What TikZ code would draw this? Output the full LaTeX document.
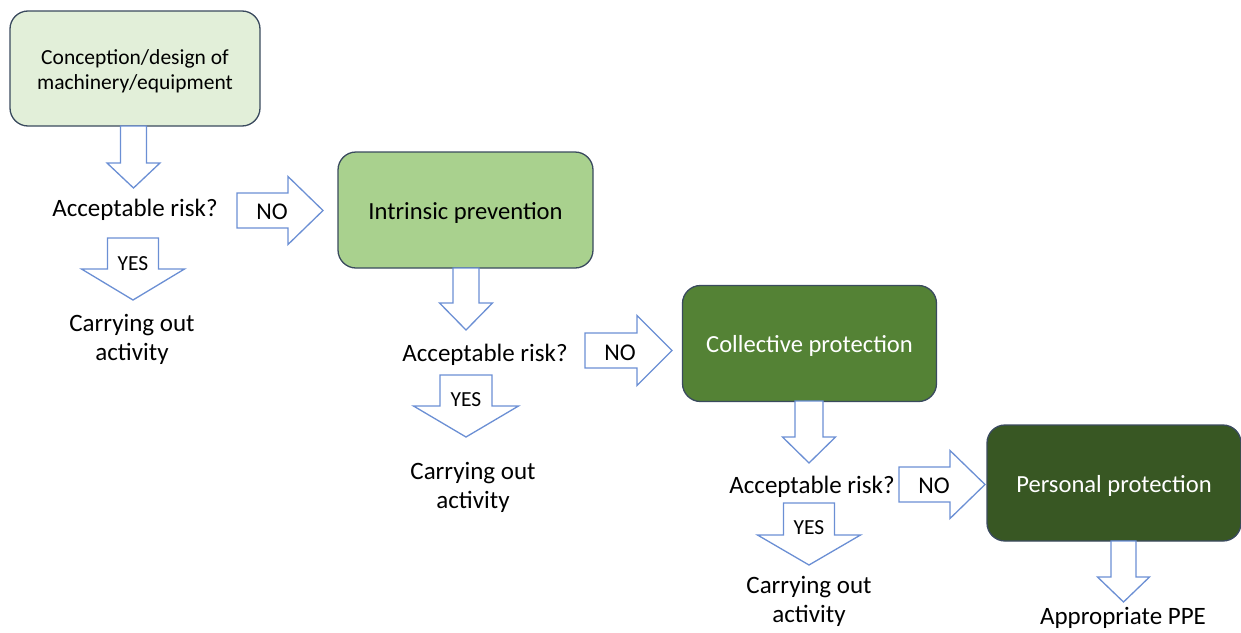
\documentclass[tikz,border=0pt]{standalone}
\usepackage{fontspec}
\setmainfont{Carlito}
\definecolor{boxA}{HTML}{E2EFD9}
\definecolor{boxB}{HTML}{A9D18E}
\definecolor{boxC}{HTML}{548235}
\definecolor{boxD}{HTML}{385723}
\definecolor{boxline}{HTML}{3A4A5E}
\definecolor{arrline}{HTML}{6B8FD4}
\newcommand{\darr}[6]{% center x, top y, head base y, tip y, shaft half, head half
  \draw[blockarr] ({#1-#5},#2) -- ({#1+#5},#2) -- ({#1+#5},#3) -- ({#1+#6},#3) -- (#1,#4) -- ({#1-#6},#3) -- ({#1-#5},#3) -- cycle;}
\newcommand{\rarr}[6]{% left x, center y, head base x, tip x, shaft half, head half
  \draw[blockarr] (#1,{#2-#5}) -- (#3,{#2-#5}) -- (#3,{#2-#6}) -- (#4,#2) -- (#3,{#2+#6}) -- (#3,{#2+#5}) -- (#1,{#2+#5}) -- cycle;}
\newcommand{\dn}[1]{\raisebox{-2.5pt}[\height][\depth]{#1}}
\begin{document}
\begin{tikzpicture}[x=1pt,y=-1pt,
  flowbox/.style={draw=boxline, line width=1.3pt, rounded corners=18pt, minimum width=250pt, minimum height=115pt, inner sep=0pt, align=center, font=\fontsize{24.6}{29}\selectfont},
  blockarr/.style={draw=arrline, line width=1.3pt, fill=white, line join=miter},
  lbl/.style={inner sep=0pt, align=center, yshift=-2.5pt, font=\fontsize{25}{29}\selectfont},
  yeslbl/.style={inner sep=0pt, yshift=-1pt, font=\fontsize{21.5}{25}\selectfont},
  nolbl/.style={inner sep=0pt, yshift=-1pt, font=\fontsize{24}{28}\selectfont}]
\useasboundingbox (0,0) rectangle (1241,632);

% boxes
\node[flowbox, fill=boxA, font=\fontsize{21.5}{25}\selectfont] (b1) at (135,68.5) {\dn{Conception/design of}\\\dn{machinery/equipment}};
\node[flowbox, fill=boxB, minimum width=255pt, minimum height=116pt] (b2) at (465.5,210) {\dn{Intrinsic prevention}};
\node[flowbox, fill=boxC, text=white, minimum width=254pt, minimum height=116pt] (b3) at (809.5,343.5) {\dn{Collective protection}};
\node[flowbox, fill=boxD, text=white, minimum width=254pt, minimum height=116pt] (b4) at (1114,483) {\dn{Personal protection}};

% stage 1
\darr{133.5}{126}{163}{188}{13}{26.5}
\node[lbl] (q1) at (135,207) {Acceptable risk?};
\darr{133}{238}{269}{300}{25.5}{51.5}
\node[yeslbl] (y1) at (133,263) {YES};
\node[lbl] (c1) at (132,336.5) {Carrying out\\activity};
\rarr{237}{210.5}{288}{323}{17.5}{34}
\node[nolbl] (n1) at (272,211) {NO};

% stage 2
\darr{466}{268}{303}{330}{13}{26.5}
\node[lbl] (q2) at (485,352) {Acceptable risk?};
\darr{466}{375}{406}{437}{26}{52.5}
\node[yeslbl] (y2) at (466,399) {YES};
\node[lbl] (c2) at (473,485) {Carrying out\\activity};
\rarr{585}{350.5}{637}{672}{17.5}{35}
\node[nolbl] (n2) at (620,352) {NO};

% stage 3
\darr{809}{401}{437}{463}{14}{26.5}
\node[lbl] (q3) at (812,484) {Acceptable risk?};
\darr{809}{503}{535}{565}{25.5}{51.5}
\node[yeslbl] (y3) at (809,527) {YES};
\node[lbl] (c3) at (809,599) {Carrying out\\activity};
\rarr{899}{484.5}{950}{985}{17.5}{34}
\node[nolbl] (n3) at (934,485) {NO};

% stage 4
\darr{1123.5}{541}{577}{602}{12.5}{26}
\node[lbl] (p4) at (1123,615.5) {Appropriate PPE};
\end{tikzpicture}
\end{document}
